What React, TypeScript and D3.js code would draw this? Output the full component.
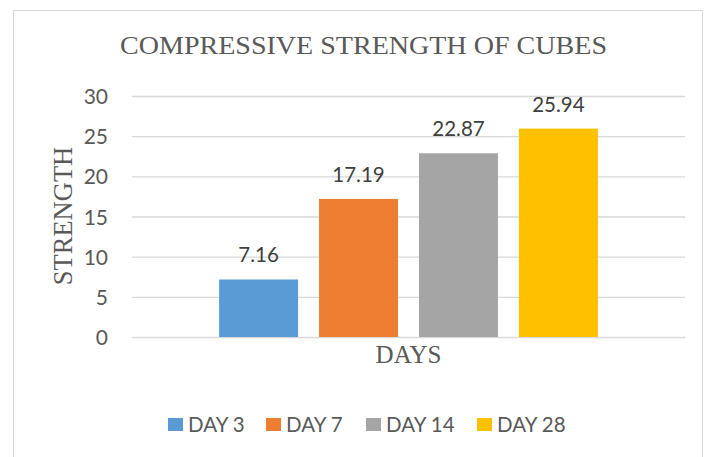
import React, { useEffect, useRef } from 'react';
import * as d3 from 'd3';

const categories = ['DAYS'];
const seriesNames = ['DAY 3', 'DAY 7', 'DAY 14', 'DAY 28'];
const seriesValues = [7.16, 17.19, 22.87, 25.94];
const seriesColors = ['#5B9BD5', '#ED7D31', '#A5A5A5', '#FFC000'];
const yTicks = [0, 5, 10, 15, 20, 25, 30];

const W = 716;
const H = 457;
const sans = "Lato, 'Liberation Sans', sans-serif";
const serif = "'Liberation Serif', 'Times New Roman', serif";
const textColor = '#595959';

export default function App() {
  const ref = useRef<SVGSVGElement | null>(null);

  useEffect(() => {
    const svg = d3.select(ref.current);
    svg.selectAll('*').remove();

    const plot = { left: 132, right: 685, top: 96, bottom: 337 };

    // chart frame
    svg.append('rect')
      .attr('x', 13.5).attr('y', 10.5)
      .attr('width', 689).attr('height', 452)
      .attr('fill', '#fff').attr('stroke', '#D9D9D9');

    svg.append('text')
      .attr('x', 120).attr('y', 54)
      .attr('font-family', serif).attr('font-size', 26)
      .attr('textLength', 487).attr('lengthAdjust', 'spacingAndGlyphs')
      .attr('fill', textColor)
      .text('COMPRESSIVE STRENGTH OF CUBES');

    const y = d3.scaleLinear().domain([0, 30]).range([plot.bottom, plot.top]);
    const x0 = d3.scaleBand().domain(categories).range([plot.left, plot.right]).paddingInner(0).paddingOuter(0.23);
    const x1 = d3.scaleBand().domain(seriesNames).range([0, x0.bandwidth()]).paddingInner(0.21).paddingOuter(0);

    // gridlines
    svg.append('g').selectAll('line').data(yTicks).enter().append('line')
      .attr('x1', plot.left).attr('x2', plot.right)
      .attr('y1', d => y(d) + 0.5).attr('y2', d => y(d) + 0.5)
      .attr('stroke', '#D9D9D9').attr('stroke-width', 1.3);

    svg.append('g').selectAll('text').data(yTicks).enter().append('text')
      .attr('x', 108).attr('y', d => y(d) + 8)
      .attr('text-anchor', 'end')
      .attr('font-family', sans).attr('font-size', 21)
      .attr('fill', textColor)
      .text(d => d);

    const bars = svg.append('g');
    categories.forEach(cat => {
      const cx = x0(cat) ?? 0;
      seriesNames.forEach((s, i) => {
        const bx = cx + (x1(s) ?? 0);
        bars.append('rect')
          .attr('x', bx).attr('y', y(seriesValues[i]))
          .attr('width', x1.bandwidth())
          .attr('height', y(0) - y(seriesValues[i]))
          .attr('fill', seriesColors[i]);
        bars.append('text')
          .attr('x', bx + x1.bandwidth() / 2)
          .attr('y', y(seriesValues[i]) - 17)
          .attr('text-anchor', 'middle')
          .attr('font-family', sans).attr('font-size', 20.5)
          .attr('fill', '#404040')
          .text(seriesValues[i].toFixed(2));
      });
      svg.append('text')
        .attr('x', (x0(cat) ?? 0) + x0.bandwidth() / 2).attr('y', 363)
        .attr('text-anchor', 'middle')
        .attr('font-family', serif).attr('font-size', 25)
        .attr('fill', textColor)
        .text(cat);
    });

    svg.append('text')
      .attr('transform', 'translate(72,216) rotate(-90)')
      .attr('text-anchor', 'middle')
      .attr('font-family', serif).attr('font-size', 26.5)
      .attr('fill', textColor)
      .text('STRENGTH');

    // legend
    const legendX = [168, 266, 366, 477];
    const legend = svg.append('g');
    seriesNames.forEach((s, i) => {
      legend.append('rect')
        .attr('x', legendX[i]).attr('y', 418)
        .attr('width', 15).attr('height', 13)
        .attr('fill', seriesColors[i]);
      legend.append('text')
        .attr('x', legendX[i] + 20).attr('y', 432)
        .attr('font-family', sans).attr('font-size', 20.5)
        .attr('fill', textColor)
        .text(s);
    });
  }, []);

  return (
    <svg
      ref={ref}
      width={W}
      height={H}
      style={{ position: 'absolute', left: 0, top: 0, background: '#fff' }}
    />
  );
}
